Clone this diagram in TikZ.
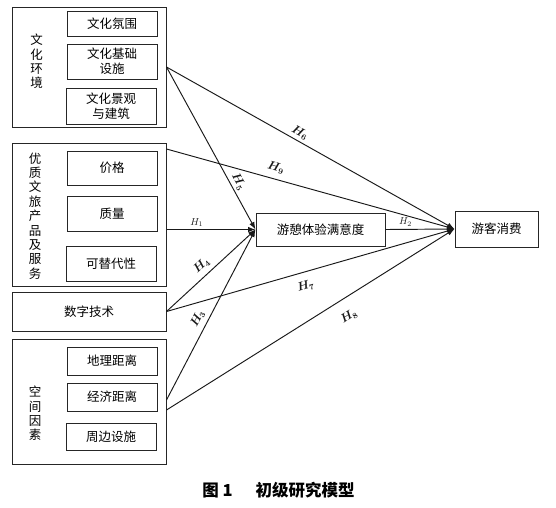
\documentclass[tikz,border=0pt]{standalone}
\usepackage{fontspec}
\setmainfont{Noto Sans CJK SC}
\usepackage{amsmath}
\usepackage{bm}
\usetikzlibrary{positioning,calc,arrows.meta}

\begin{document}
\begin{tikzpicture}[x=1pt, y=-1pt,
  outer/.style={draw=black!85, line width=1pt, inner sep=0pt},
  item/.style={draw=black!85, line width=1pt, inner sep=0pt,
               minimum width=90pt, align=center,
               font=\fontsize{12.5}{15}\selectfont},
  vlab/.style={align=center, inner sep=0pt,
               font=\fontsize{12.5}{14.4}\selectfont},
  edge/.style={line width=0.95pt, -{Latex[length=7.5pt, width=5.5pt]}, black!90},
  hyp/.style={font=\fontsize{11.5}{12}\selectfont, inner sep=2.5pt},
  hypthin/.style={font=\fontsize{10}{11}\selectfont, inner sep=2.5pt},
]

% Left column: cultural environment
\node[outer, minimum width=154pt, minimum height=120pt] (env) at (89, 67) {};
\node[item, minimum height=25pt] (atmos) at (112, 23.5) {文化氛围};
\node[item, minimum height=35pt] (infra) at (112, 61.5) {文化基础\\设施};
\node[item, minimum height=36pt] (scape) at (111, 106) {文化景观\\与建筑};
\node[vlab] (envlab) at (36.5, 61.5) {文\\化\\环\\境};

% Left column: products and services
\node[outer, minimum width=154pt, minimum height=143pt] (prod) at (89, 214.5) {};
\node[item, minimum height=34pt] (price) at (112, 168) {价格};
\node[item, minimum height=35pt] (qual) at (112, 213.5) {质量};
\node[item, minimum height=35pt] (subst) at (111, 263.5) {可替代性};
\node[vlab] (prodlab) at (35, 216) {优\\质\\文\\旅\\产\\品\\及\\服\\务};

% Left column: digital technology
\node[outer, minimum width=154pt, minimum height=39pt,
      font=\fontsize{12.5}{15}\selectfont] (dig) at (89, 311.5) {数字技术};

% Left column: spatial factors
\node[outer, minimum width=154pt, minimum height=125pt] (space) at (89, 401.5) {};
\node[item, minimum height=28pt] (geo) at (112, 361) {地理距离};
\node[item, minimum height=28pt] (econ) at (112, 397) {经济距离};
\node[item, minimum height=27pt] (around) at (111, 436.5) {周边设施};
\node[vlab] (spacelab) at (35, 413.5) {空\\间\\因\\素};

% Mediator and outcome
\node[outer, minimum width=129pt, minimum height=33pt,
      font=\fontsize{12.5}{15}\selectfont] (sat) at (320.5, 229.5) {游憩体验满意度};
\node[outer, minimum width=83pt, minimum height=36pt,
      font=\fontsize{12.5}{15}\selectfont] (cons) at (496.5, 229) {游客消费};

% Free ends on the outer boxes
\coordinate (prodtop) at (prod.east |- 0, 149);
\coordinate (prodmid) at (prod.east |- sat.west);
\coordinate (econhi) at (space.east |- 0, 400);
\coordinate (econlo) at (space.east |- 0, 410);

% Paths into the mediator
\draw[edge] (env.east) -- node[hyp, sloped, above, pos=0.73] {$\bm{H_5}$} (sat.west);
\draw[edge] (prodmid) -- node[hypthin, above, pos=0.34] {$H_1$} (sat.west);
\draw[edge] (dig.east) -- node[hyp, sloped, above=2pt, pos=0.47] {$\bm{H_4}$} (sat.west);
\draw[edge] (econhi) -- node[hyp, sloped, above=2pt, pos=0.45] {$\bm{H_3}$} (sat.west);

% Paths into the outcome
\draw[edge] (env.east) -- node[hyp, sloped, above, pos=0.45] {$\bm{H_6}$} (cons.west);
\draw[edge] (prodtop) -- node[hyp, sloped, above=3pt, pos=0.37] {$\bm{H_9}$} (cons.west);
\draw[edge] (sat.east) -- node[hypthin, above, pos=0.29] {$H_2$} (cons.west);
\draw[edge] (dig.east) -- node[hyp, sloped, below=6pt, pos=0.47] {$\bm{H_7}$} (cons.west);
\draw[edge] (econlo) -- node[hyp, sloped, below=10pt, pos=0.6] {$\bm{H_8}$} (cons.west);

% Caption
\node[font=\fontsize{16.5}{18}\selectfont\bfseries] (cap) at (278.5, 490)
  {图 1\hspace{1.4em}初级研究模型};

\useasboundingbox (0, 0) rectangle (556, 507);
\end{tikzpicture}
\end{document}
